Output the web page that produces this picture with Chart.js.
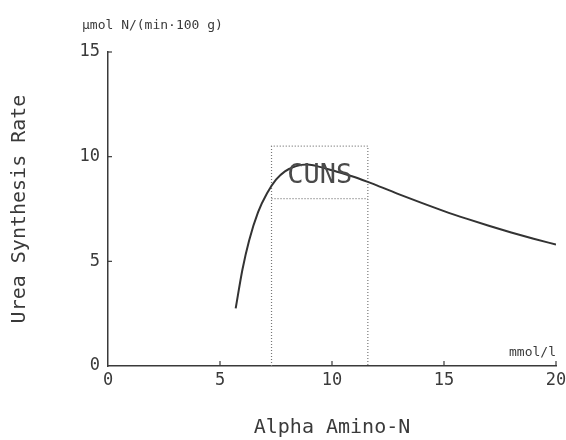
<!DOCTYPE html>
<html>
<head>
<meta charset="utf-8">
<script src="https://cdn.jsdelivr.net/npm/chart.js@4"></script>
<style>
  html, body { margin: 0; padding: 0; background: #fff; }
  #wrap { width: 566px; height: 440px; }
</style>
</head>
<body>
<div id="wrap"><canvas id="c"></canvas></div>
<script>
// curve
const aminoN = [5.7, 6.0, 6.3, 6.7, 7.1, 7.5, 7.9, 8.4, 8.9, 9.5, 10, 11, 12, 13, 14, 15, 16, 17, 18, 19, 20];
const ureaRate = [2.75, 4.6, 6.0, 7.35, 8.25, 8.9, 9.3, 9.55, 9.62, 9.5, 9.35, 9.03, 8.63, 8.2, 7.79, 7.4, 7.04, 6.7, 6.38, 6.08, 5.8];

// CUNS box
const cunsX = [7.3, 11.6];
const cunsTop = 10.5;
const cunsMid = 8.0;

const xTicks = [0, 5, 10, 15, 20];
const yTicks = [0, 5, 10, 15];

const ink = '#3a3a3a';
const font = 'DejaVu Sans Mono';

const curve = aminoN.map((x, i) => ({ x: x, y: ureaRate[i] }));
const boxOutline = [
    { x: cunsX[0], y: 0 }, { x: cunsX[0], y: cunsTop },
    { x: cunsX[1], y: cunsTop }, { x: cunsX[1], y: 0 }
];
const boxMid = [{ x: cunsX[0], y: cunsMid }, { x: cunsX[1], y: cunsMid }];

// inward tick marks + the little unit labels and the CUNS label
const decor = {
    id: 'decor',
    afterDatasetsDraw(chart) {
        const c = chart.ctx;
        const xs = chart.scales.x, ys = chart.scales.y;
        c.save();
        c.strokeStyle = ink;
        c.lineWidth = 1.2;
        xTicks.slice(1).forEach(v => {
            const px = xs.getPixelForValue(v);
            c.beginPath(); c.moveTo(px, ys.bottom); c.lineTo(px, ys.bottom - 5); c.stroke();
        });
        yTicks.slice(1).forEach(v => {
            const py = ys.getPixelForValue(v);
            c.beginPath(); c.moveTo(xs.left, py); c.lineTo(xs.left + 4, py); c.stroke();
        });
        c.fillStyle = ink;
        c.font = '13px ' + font;
        c.textAlign = 'left';
        c.textBaseline = 'middle';
        c.fillText('\u03bcmol N/(min\u00b7100 g)', 82, 26);
        c.textAlign = 'right';
        c.fillText('mmol/l', xs.right, ys.bottom - 13);
        c.font = '27px ' + font;
        c.textAlign = 'center';
        c.fillStyle = '#4a4a4a';
        c.fillText('CUNS', xs.getPixelForValue((cunsX[0] + cunsX[1]) / 2), ys.getPixelForValue(9.1));
        c.restore();
    }
};

new Chart(document.getElementById('c'), {
    type: 'scatter',
    data: {
        datasets: [{
            data: curve,
            showLine: true,
            borderColor: '#333',
            borderWidth: 2,
            pointRadius: 0,
            cubicInterpolationMode: 'monotone'
        }, {
            data: boxOutline,
            showLine: true,
            borderColor: '#777',
            borderWidth: 1.2,
            borderDash: [1, 2],
            pointRadius: 0
        }, {
            data: boxMid,
            showLine: true,
            borderColor: '#777',
            borderWidth: 1.2,
            borderDash: [1, 2],
            pointRadius: 0
        }]
    },
    options: {
        responsive: true,
        maintainAspectRatio: false,
        animation: false,
        layout: { padding: { top: 52, right: 0, bottom: 0, left: 0 } },
        plugins: { legend: { display: false }, tooltip: { enabled: false } },
        scales: {
            x: {
                type: 'linear',
                min: 0, max: 20,
                afterBuildTicks: s => { s.ticks = xTicks.map(v => ({ value: v })); },
                afterFit: s => { s.height = 74; s.paddingRight = 10; },
                border: { color: ink, width: 1.5 },
                grid: { display: true, drawOnChartArea: false, drawTicks: false },
                ticks: { color: ink, padding: 4, maxRotation: 0, font: { family: font, size: 17 } },
                title: {
                    display: true, text: 'Alpha Amino-N', color: ink,
                    font: { family: font, size: 20 }, padding: { top: 22, bottom: 0 }
                }
            },
            y: {
                type: 'linear',
                min: 0, max: 15,
                afterBuildTicks: s => { s.ticks = yTicks.map(v => ({ value: v })); },
                afterFit: s => { s.width = 108; },
                border: { color: ink, width: 1.5 },
                grid: { display: true, drawOnChartArea: false, drawTicks: false },
                ticks: { color: ink, padding: 8, font: { family: font, size: 17 } },
                title: {
                    display: true, text: 'Urea Synthesis Rate', color: ink,
                    font: { family: font, size: 20 }, padding: { top: 8, bottom: 0 }
                }
            }
        }
    },
    plugins: [decor]
});
</script>
</body>
</html>
